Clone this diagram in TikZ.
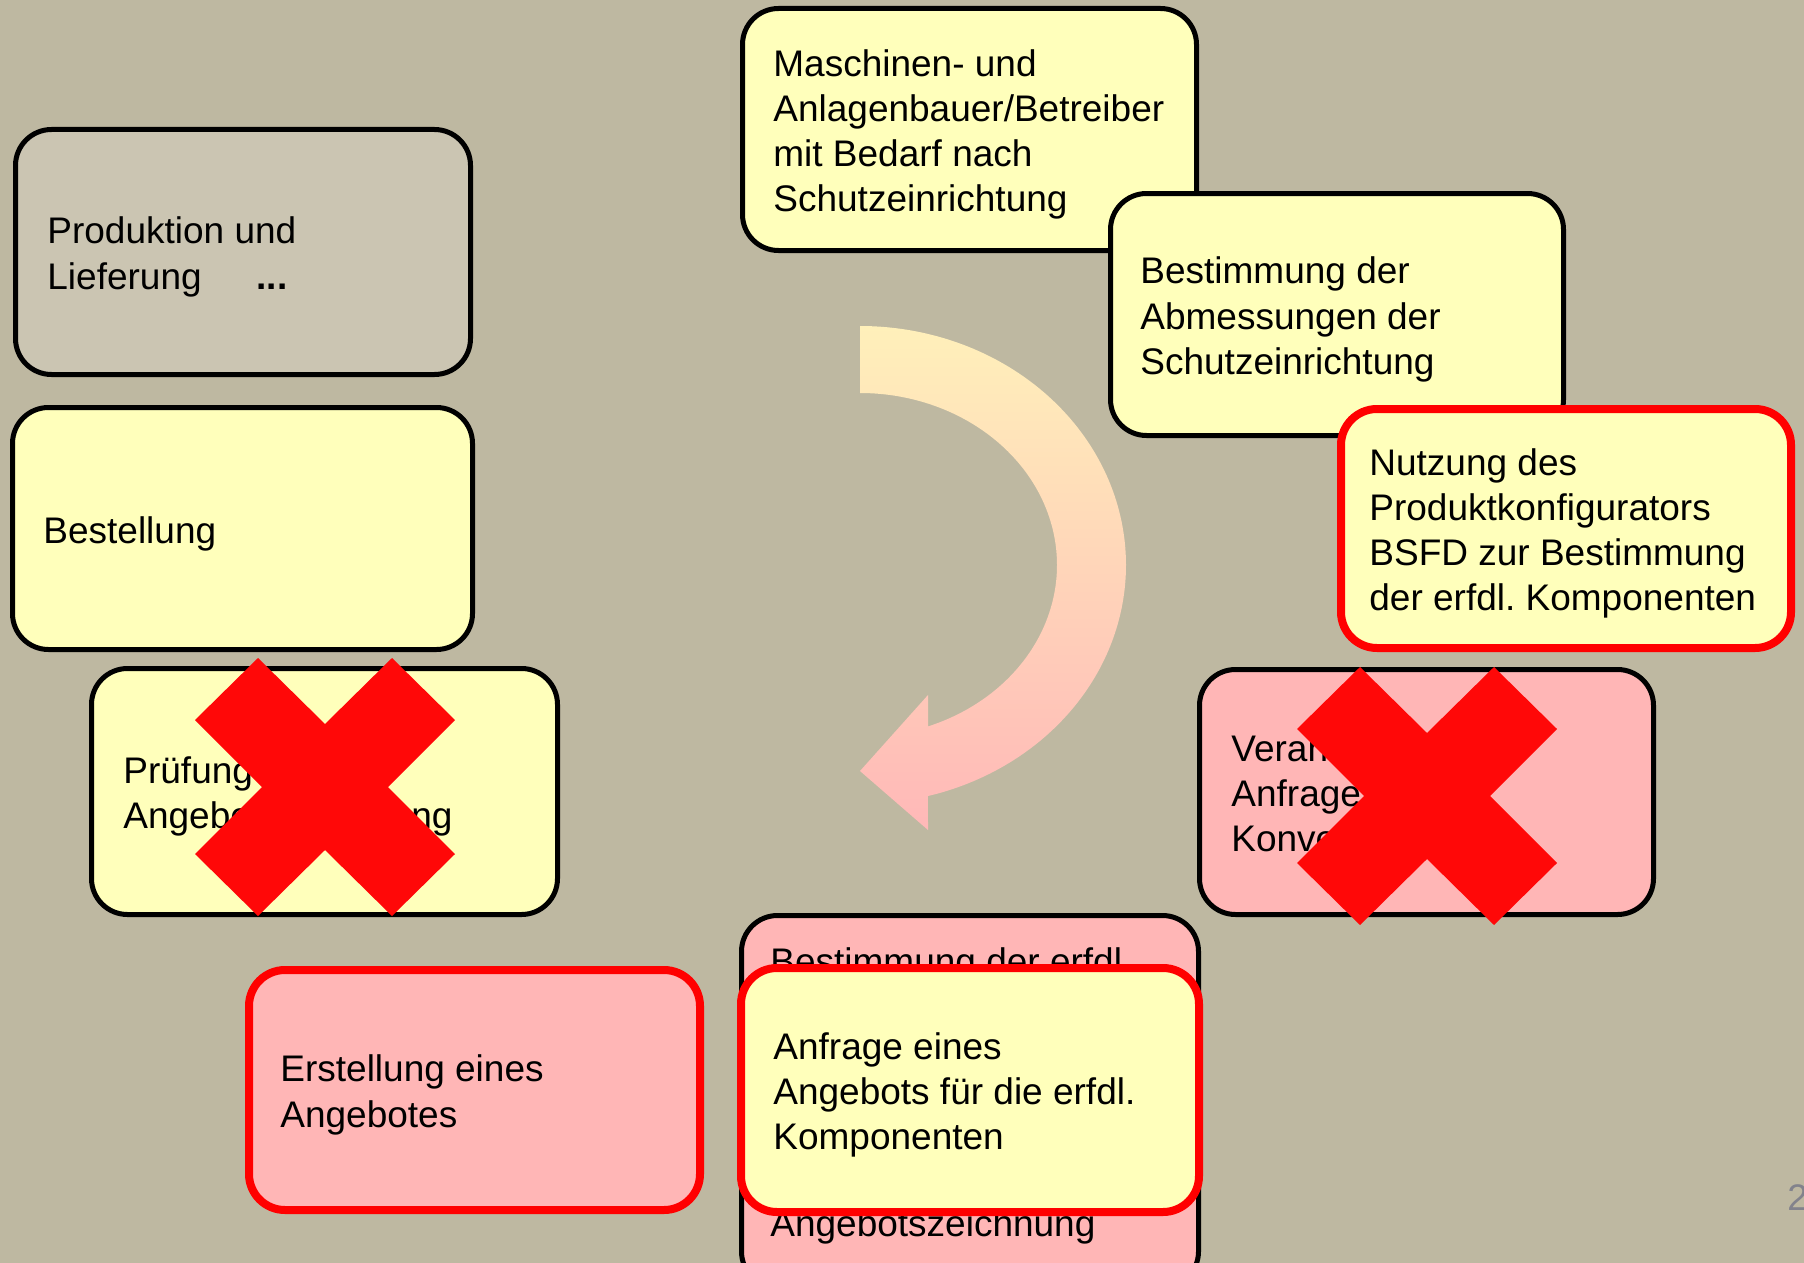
\documentclass[tikz,border=0pt]{standalone}
\usepackage{fontspec}
\setmainfont{Liberation Sans}
\frenchspacing
\definecolor{bg}{RGB}{190,184,161}
\definecolor{graybox}{RGB}{203,197,178}
\definecolor{ybox}{RGB}{255,255,187}
\definecolor{pbox}{RGB}{255,182,182}
\definecolor{boxred}{RGB}{255,0,0}
\definecolor{xred}{RGB}{255,8,8}
\definecolor{pnumcol}{RGB}{130,130,140}
\definecolor{arrtop}{RGB}{255,240,186}
\definecolor{arrmid}{RGB}{255,226,182}
\definecolor{arrbot}{RGB}{255,184,184}
\begin{document}
\begin{tikzpicture}[x=0.5pt,y=-0.5pt,
  box/.style={draw=black, line width=2.5pt, rounded corners=18pt, inner sep=0pt},
  redbox/.style={draw=boxred, line width=4pt, rounded corners=18pt, inner sep=0pt},
  txt/.style={anchor=west, align=left, inner sep=0pt, yshift=-2.5pt, font=\fontsize{18.5}{22.6}\selectfont},
  cross/.style={fill=xred}]
\useasboundingbox (0,0) rectangle (1804,1263);
\clip (0,0) rectangle (1804,1263);
\fill[bg] (0,0) rectangle (1804,1263);

% left column
\node[box, fill=graybox, minimum width=227.5pt, minimum height=122.5pt] (prod) at (243,252) {};
\node[txt] (prodt) at (47,252) {Produktion und\\Lieferung\hspace{27.5pt}\textbf{...}};

\node[box, fill=ybox, minimum width=230pt, minimum height=121pt] (best) at (242.5,528.5) {};
\node[txt] (bestt) at (43,528.5) {Bestellung};

\node[box, fill=ybox, minimum width=233pt, minimum height=123pt] (pruef) at (324.5,791.5) {};
\node[txt] (prueft) at (123,791.5) {Prüfung\\Angebotsbewertung};
\begin{scope}[shift={(325,787)}]
\fill[cross] (-130,-67) -- (-67,-129) -- (0,-63) -- (67,-129) -- (130,-67) -- (63,0) -- (130,67) -- (67,129) -- (0,63) -- (-67,129) -- (-130,67) -- (-63,0) -- cycle;
\end{scope}

% top / right
\node[box, fill=ybox, minimum width=227pt, minimum height=121pt] (masch) at (969.5,129.5) {};
\node[txt] (mascht) at (773,129.5) {Maschinen- und\\Anlagenbauer/Betreiber\\mit Bedarf nach\\Schutzeinrichtung};

\node[box, fill=ybox, minimum width=226.5pt, minimum height=121pt] (abm) at (1337,314.5) {};
\node[txt] (abmt) at (1140,314.5) {Bestimmung der\\Abmessungen der\\Schutzeinrichtung};

\node[redbox, fill=ybox, minimum width=225pt, minimum height=119.5pt] (nutz) at (1566,528.5) {};
\node[txt] (nutzt) at (1369,528.5) {Nutzung des\\Produktkonfigurators\\BSFD zur Bestimmung\\der erfdl. Komponenten};

\node[box, fill=pbox, minimum width=227pt, minimum height=122.5pt] (veran) at (1426.5,792) {};
\node[txt] (verant) at (1231,789) {Veran\\Anfrage\\Konve};
\begin{scope}[shift={(1427,796)}]
\fill[cross] (-130,-67) -- (-67,-129) -- (0,-63) -- (67,-129) -- (130,-67) -- (63,0) -- (130,67) -- (67,129) -- (0,63) -- (-67,129) -- (-130,67) -- (-63,0) -- cycle;
\end{scope}

% bottom
\node[box, fill=pbox, minimum width=228.5pt, minimum height=186pt] (erfdl) at (970,1101.5) {};
\node[txt, anchor=base west, yshift=2.5pt] (erfdlt) at (770,1236) {Bestimmung der erfdl.\\[108.4pt]Angebotszeichnung};

\node[redbox, fill=ybox, minimum width=229pt, minimum height=122pt] (anfr) at (970,1090) {};
\node[txt] (anfrt) at (773,1090) {Anfrage eines\\Angebots für die erfdl.\\Komponenten};

\node[redbox, fill=pbox, minimum width=225.5pt, minimum height=120pt] (erst) at (474.5,1090) {};
\node[txt] (erstt) at (280,1090) {Erstellung eines\\Angebotes};

% curved arrow
\shade[top color=arrtop, middle color=arrmid, bottom color=arrbot]
  plot[domain=-90:75.2, samples=80, smooth] ({860+266*cos(\x)},{565+239*sin(\x)})
  -- (928,830) -- (860,771) -- (928,695) -- (928,726.4)
  -- plot[domain=69.8:-90, samples=80, smooth] ({860+197*cos(\x)},{565+172*sin(\x)})
  -- cycle;

% page number
\node[anchor=base west, inner sep=0pt, text=pnumcol, font=\fontsize{18.5}{22.6}\selectfont] (pnum) at (1787,1210) {2};
\end{tikzpicture}
\end{document}
